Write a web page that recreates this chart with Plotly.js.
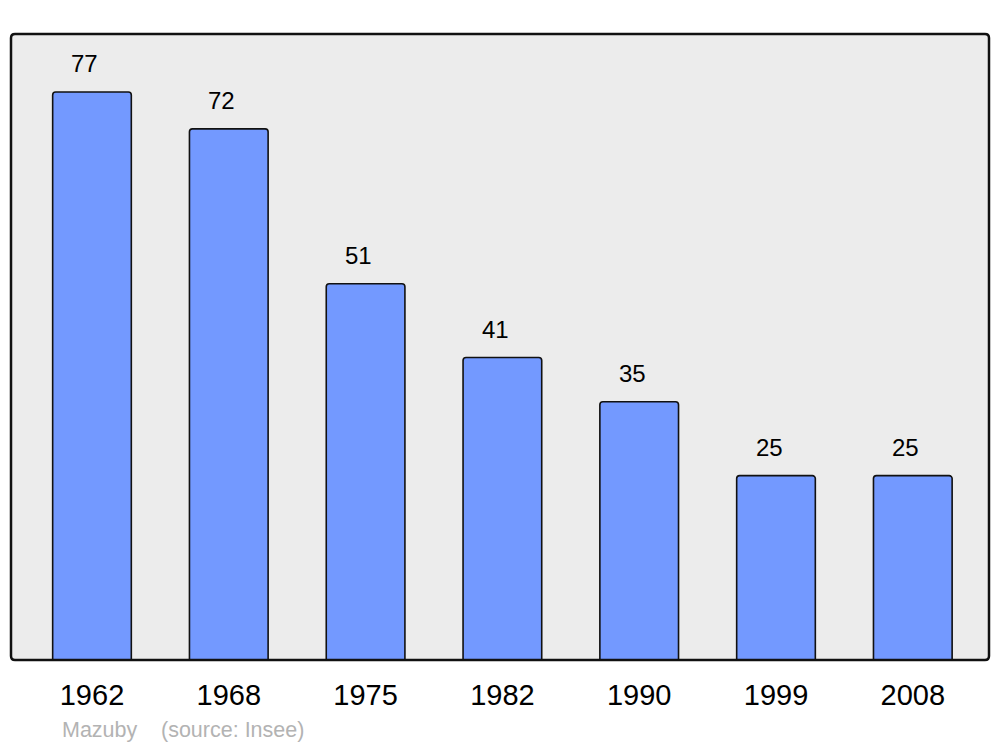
<!DOCTYPE html>
<html>
<head>
<meta charset="utf-8">
<script src="https://cdn.plot.ly/plotly-3.0.1.min.js"></script>
<style>html,body{margin:0;padding:0;background:#fff;}#chart{width:1000px;height:747px;}</style>
</head>
<body>
<div id="chart"></div>
<script>
const years = ['1962', '1968', '1975', '1982', '1990', '1999', '2008'];
const population = [77, 72, 51, 41, 35, 25, 25];
const footerAuthor = 'Mazuby';
const footerSource = '(source: Insee)';

const W = 1000, H = 747;
const m = {l: 11, r: 11, t: 34, b: 87};
const pw = W - m.l - m.r, ph = H - m.t - m.b;
const rad = 4;
const rx = rad / pw, ry = rad / ph;
function roundRectPath() {
  return `M ${rx},0 L ${1-rx},0 Q 1,0 1,${ry} L 1,${1-ry} Q 1,1 ${1-rx},1 L ${rx},1 Q 0,1 0,${1-ry} L 0,${ry} Q 0,0 ${rx},0 Z`;
}

const font = 'Liberation Sans, Arial, sans-serif';

const trace = {
  type: 'bar',
  x: years,
  y: population,
  marker: {color: '#7399ff', line: {color: '#111111', width: 1.6}, cornerradius: 3},
  hoverinfo: 'none'
};

const annotations = years.map((yr, i) => ({
  x: i, y: population[i], xref: 'x', yref: 'y',
  text: String(population[i]), showarrow: false,
  xanchor: 'center', yanchor: 'middle', xshift: -7, yshift: 28,
  font: {family: font, size: 24, color: '#000'}
}));
annotations.push({
  xref: 'paper', yref: 'paper', x: (60 - m.l) / pw, y: -(730 - 660) / ph,
  text: footerAuthor, showarrow: false, xanchor: 'left', yanchor: 'middle',
  font: {family: font, size: 21.5, color: '#b3b3b3'}
});
annotations.push({
  xref: 'paper', yref: 'paper', x: (159 - m.l) / pw, y: -(730 - 660) / ph,
  text: footerSource, showarrow: false, xanchor: 'left', yanchor: 'middle',
  font: {family: font, size: 21.5, color: '#b3b3b3'}
});

const layout = {
  width: W, height: H,
  margin: m,
  paper_bgcolor: '#ffffff',
  plot_bgcolor: 'rgba(0,0,0,0)',
  showlegend: false,
  bargap: 0.425,
  xaxis: {
    type: 'category', range: [-0.592, 6.557],
    showgrid: false, zeroline: false, showline: false, ticks: '',
    ticklabelstandoff: 15,
    tickfont: {family: font, size: 29, color: '#000'}
  },
  yaxis: {
    range: [0, 84.86], showgrid: false, zeroline: false, showline: false,
    showticklabels: false, ticks: ''
  },
  shapes: [
    {type: 'path', xref: 'paper', yref: 'paper', path: roundRectPath(),
     fillcolor: '#ececec', line: {width: 0}, layer: 'below'},
    {type: 'path', xref: 'paper', yref: 'paper', path: roundRectPath(),
     fillcolor: 'rgba(0,0,0,0)', line: {color: '#111111', width: 2.5}, layer: 'above'}
  ],
  annotations: annotations
};

Plotly.newPlot('chart', [trace], layout, {staticPlot: true, displayModeBar: false});
</script>
</body>
</html>
